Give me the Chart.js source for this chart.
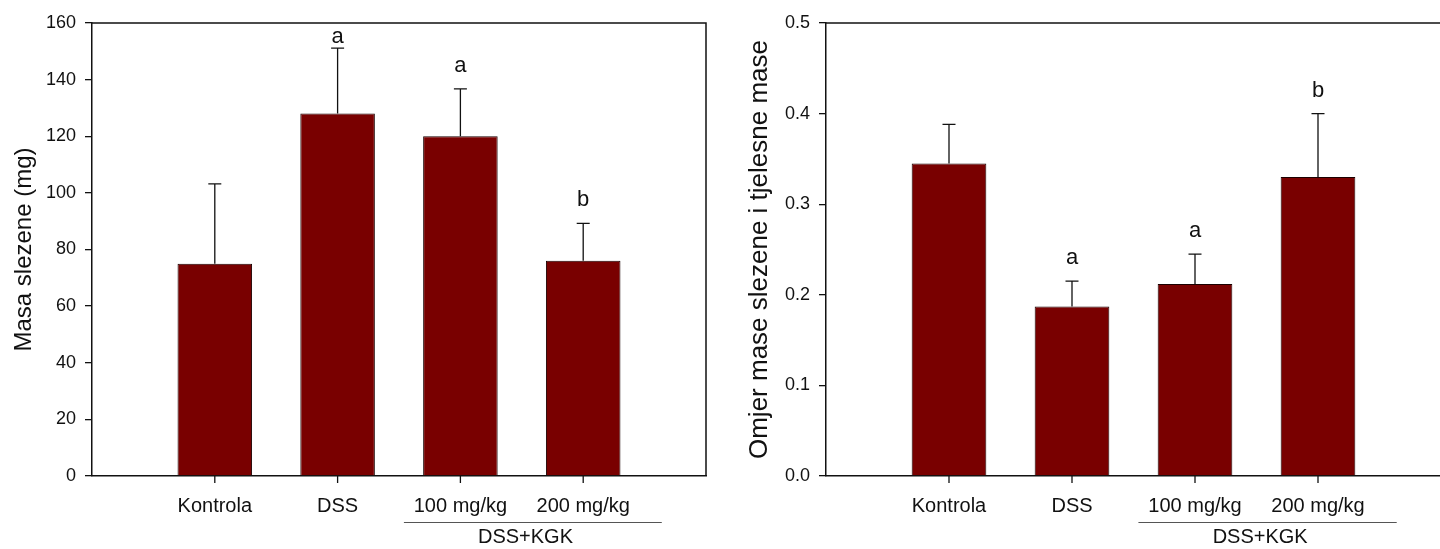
<!DOCTYPE html>
<html>
<head>
<meta charset="utf-8">
<script src="https://cdn.jsdelivr.net/npm/chart.js@4.4.1/dist/chart.umd.min.js"></script>
<style>
  html, body { margin: 0; padding: 0; background: #fff; overflow: hidden; }
  .panel { position: absolute; top: 0; height: 549px; overflow: hidden; }
</style>
</head>
<body>
<div class="panel" style="left:0;width:720px"><canvas id="massChart" width="720" height="549"></canvas></div>
<div class="panel" style="left:720px;width:720px"><canvas id="ratioChart" width="740" height="549"></canvas></div>
<script>
const groups = ["Kontrola", "DSS", "100 mg/kg", "200 mg/kg"];
const subGroupLabel = "DSS+KGK";

const massMean = [75, 128, 120, 76];
const massErr = [28.2, 23.1, 16.7, 13.2];
const massLetters = ["", "a", "a", "b"];
const massTicks = [0, 20, 40, 60, 80, 100, 120, 140, 160];

const ratioMean = [0.345, 0.187, 0.212, 0.33];
const ratioErr = [0.043, 0.028, 0.033, 0.07];
const ratioLetters = ["", "a", "a", "b"];
const ratioTicks = [0, 0.1, 0.2, 0.3, 0.4, 0.5];

const FONT = '"Liberation Sans", Arial, sans-serif';
const BAR = "#790000";

Chart.defaults.font.family = FONT;
Chart.defaults.color = "#111";

// empty slot on each side so the 4 bars sit at positions 1..4 of a 0..5 axis
const slots = ["", ...groups, ""];
const pad = (arr) => [null, ...arr, null];

function makeChart(id, opt) {
  const errPlugin = {
    id: "errs",
    afterDatasetsDraw(chart) {
      const { ctx, chartArea } = chart;
      const x = chart.scales.x;
      const y = chart.scales.y;
      ctx.save();
      ctx.strokeStyle = "#111";
      ctx.lineWidth = 1.3;
      opt.mean.forEach((m, i) => {
        const px = x.getPixelForValue(i + 1);
        const top = y.getPixelForValue(m + opt.err[i]);
        const base = y.getPixelForValue(m);
        ctx.beginPath();
        ctx.moveTo(px, base);
        ctx.lineTo(px, top);
        ctx.moveTo(px - 6.5, top);
        ctx.lineTo(px + 6.5, top);
        // category tick mark under the axis
        ctx.moveTo(px, chartArea.bottom);
        ctx.lineTo(px, chartArea.bottom + 7);
        ctx.stroke();
        if (opt.letters[i]) {
          ctx.fillStyle = "#111";
          ctx.font = `22px ${FONT}`;
          ctx.textAlign = "center";
          ctx.textBaseline = "alphabetic";
          ctx.fillText(opt.letters[i], px, Math.max(top - 17, chartArea.top + 20));
        }
      });
      ctx.restore();
    },
    afterDraw(chart) {
      const { ctx, chartArea } = chart;
      const x = chart.scales.x;
      ctx.save();
      // frame
      ctx.strokeStyle = "#111";
      ctx.lineWidth = 1.5;
      ctx.beginPath();
      ctx.moveTo(chartArea.left, chartArea.top);
      ctx.lineTo(opt.rightFrame ? chartArea.right : chart.width, chartArea.top);
      if (opt.rightFrame) ctx.lineTo(chartArea.right, chartArea.bottom);
      ctx.stroke();
      // group bracket under the two dose labels
      const yLine = 522.5;
      ctx.strokeStyle = "#555";
      ctx.lineWidth = 1.2;
      ctx.beginPath();
      ctx.moveTo(x.getPixelForValue(2.54), yLine);
      ctx.lineTo(x.getPixelForValue(4.64), yLine);
      ctx.stroke();
      ctx.fillStyle = "#111";
      ctx.font = `20px ${FONT}`;
      ctx.textAlign = "center";
      ctx.textBaseline = "alphabetic";
      ctx.fillText(subGroupLabel, x.getPixelForValue(3.53), 543);
      ctx.restore();
    },
  };

  return new Chart(document.getElementById(id), {
    type: "bar",
    data: {
      labels: slots,
      datasets: [
        {
          data: pad(opt.mean),
          backgroundColor: BAR,
          borderColor: "#1a0000",
          borderWidth: 1,
          categoryPercentage: 1,
          barPercentage: 0.607,
        },
      ],
    },
    options: {
      responsive: false,
      animation: false,
      layout: { padding: { top: 23, right: opt.padRight, left: 0, bottom: 0 } },
      plugins: { legend: { display: false }, tooltip: { enabled: false } },
      scales: {
        x: {
          offset: false,
          afterFit: (s) => { s.height = 73; },
          border: { display: true, color: "#111", width: 1.5 },
          grid: { display: false },
          ticks: { autoSkip: false, maxRotation: 0, padding: 10, font: { size: 20 }, color: "#111" },
        },
        y: {
          min: opt.ticks[0],
          max: opt.ticks[opt.ticks.length - 1],
          afterFit: (s) => { s.width = opt.axisWidth; },
          afterBuildTicks: (s) => { s.ticks = opt.ticks.map((v) => ({ value: v })); },
          border: { display: true, color: "#111", width: 1.5 },
          grid: { drawOnChartArea: false, drawTicks: true, tickLength: 7, lineWidth: 1.3, color: "#111" },
          ticks: { padding: 9, font: { size: 18 }, color: "#111", callback: opt.fmt },
          title: {
            display: true,
            text: opt.title,
            color: "#111",
            font: { size: opt.titleSize },
            padding: { top: opt.titlePad, bottom: 0 },
          },
        },
      },
    },
    plugins: [errPlugin],
  });
}

makeChart("massChart", {
  mean: massMean,
  err: massErr,
  letters: massLetters,
  ticks: massTicks,
  fmt: (v) => String(v),
  title: "Masa slezene (mg)",
  titleSize: 24,
  titlePad: 10,
  axisWidth: 92,
  padRight: 14,
  rightFrame: true,
});

makeChart("ratioChart", {
  mean: ratioMean,
  err: ratioErr,
  letters: ratioLetters,
  ticks: ratioTicks,
  fmt: (v) => Number(v).toFixed(1),
  title: "Omjer mase slezene i tjelesne mase",
  titleSize: 26,
  titlePad: 24,
  axisWidth: 106,
  padRight: 19,
  rightFrame: false,
});
</script>
</body>
</html>
